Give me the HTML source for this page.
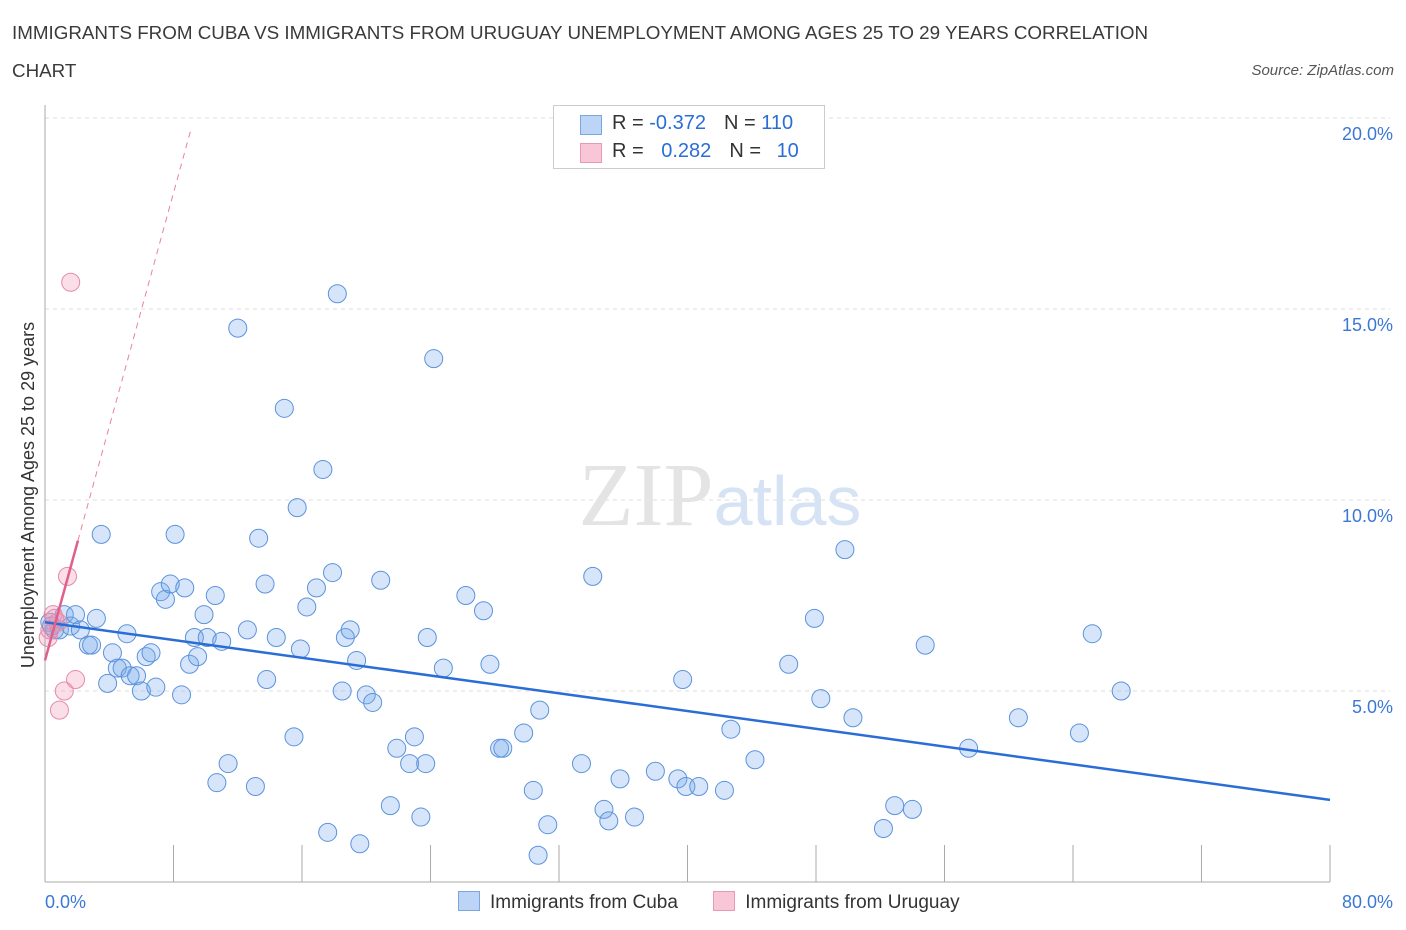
<!DOCTYPE html>
<html><head><meta charset="utf-8"><style>
body{margin:0;background:#fff;font-family:"Liberation Sans",sans-serif;}
#wrap{position:relative;width:1406px;height:930px;overflow:hidden}
.t{position:absolute;color:#333}
</style></head><body>
<div id="wrap">
<div class="t" style="left:12px;top:14px;font-size:18.8px;line-height:38px;color:#3a3a3a">IMMIGRANTS FROM CUBA VS IMMIGRANTS FROM URUGUAY UNEMPLOYMENT AMONG AGES 25 TO 29 YEARS CORRELATION<br>CHART</div>
<div class="t" style="right:12px;top:62px;font-size:15px;font-style:italic;color:#555">Source: ZipAtlas.com</div>
<svg id="svg" width="1406" height="930" style="position:absolute;left:0;top:0"></svg>
</div>
<script>
const xTicks=[0,8,16,24,32,40,48,56,64,72,80];
const yTicks=[5,10,15,20];
const yTickLabels=["5.0%","10.0%","15.0%","20.0%"];
const cubaX=[0.3,0.6,0.9,1.2,1.6,1.9,2.2,2.7,2.9,3.2,3.5,3.9,4.2,4.5,4.8,5.1,5.3,5.7,6.0,6.3,6.6,6.9,7.2,7.5,7.8,8.1,8.5,8.7,9.0,9.3,9.5,9.9,10.1,10.6,11.0,11.4,10.7,12.0,12.6,13.1,13.3,13.7,13.8,14.4,14.9,15.5,15.7,15.9,16.3,16.9,17.3,17.6,17.9,18.2,18.5,18.7,19.0,19.4,19.6,20.0,20.4,20.9,21.5,21.9,22.7,23.0,23.4,23.7,23.8,24.2,24.8,26.2,27.3,27.7,28.3,28.5,29.8,30.4,30.8,30.7,31.3,33.4,34.1,34.8,35.1,35.8,36.7,38.0,39.4,39.7,39.9,40.7,42.3,42.7,44.2,46.3,47.9,48.3,49.8,50.3,52.2,52.9,54.0,54.8,57.5,60.6,64.4,65.2,67.0,0.4];
const cubaY=[6.8,6.6,6.6,7.0,6.7,7.0,6.6,6.2,6.2,6.9,9.1,5.2,6.0,5.6,5.6,6.5,5.4,5.4,5.0,5.9,6.0,5.1,7.6,7.4,7.8,9.1,4.9,7.7,5.7,6.4,5.9,7.0,6.4,7.5,6.3,3.1,2.6,14.5,6.6,2.5,9.0,7.8,5.3,6.4,12.4,3.8,9.8,6.1,7.2,7.7,10.8,1.3,8.1,15.4,5.0,6.4,6.6,5.8,1.0,4.9,4.7,7.9,2.0,3.5,3.1,3.8,1.7,3.1,6.4,13.7,5.6,7.5,7.1,5.7,3.5,3.5,3.9,2.4,4.5,0.7,1.5,3.1,8.0,1.9,1.6,2.7,1.7,2.9,2.7,5.3,2.5,2.5,2.4,4.0,3.2,5.7,6.9,4.8,8.7,4.3,1.4,2.0,1.9,6.2,3.5,4.3,3.9,6.5,5.0,6.7];
const urX=[0.3,0.5,0.6,0.8,0.9,1.2,1.4,1.6,1.9,0.2];
const urY=[6.6,7.0,6.9,6.8,4.5,5.0,8.0,15.7,5.3,6.4];
const cubaTrend=[6.8,2.15];
const urTrend=[5.8,1.53];
const L=45,R=1330,B=882,T=118;
const X=v=>L+v/80*(R-L), Y=v=>B-v/20*(B-T);
const svg=document.getElementById('svg');const NS='http://www.w3.org/2000/svg';
function mk(tag,at,parent){const e=document.createElementNS(NS,tag);for(const k in at)e.setAttribute(k,at[k]);(parent||svg).appendChild(e);return e;}
yTicks.forEach((v,i)=>{const g=mk('line',{x1:L,x2:R+60,y1:Y(v),y2:Y(v),stroke:'#ddd','stroke-dasharray':'4,4'});


const t=mk('text',{x:1393,y:Y(v)+22,'text-anchor':'end','font-size':18,fill:'#3a78d6'});t.textContent=yTickLabels[i];

});
const ax=mk('line',{x1:L,x2:L,y1:105,y2:B,stroke:'#aaa'});


const bx=mk('line',{x1:L,x2:R,y1:B,y2:B,stroke:'#aaa'});


xTicks.forEach(v=>{const tk=mk('line',{x1:X(v),x2:X(v),y1:845,y2:B,stroke:'#aaa'});

});
[['0.0%',45,'start'],['80.0%',1393,'end']].forEach(a=>{const t=mk('text',{x:a[1],y:908,'text-anchor':a[2],'font-size':18,fill:'#3a78d6'});t.textContent=a[0];

});
const wm=mk('text',{x:720,y:525,'text-anchor':'middle','font-size':90,fill:'#e4e4e4','font-family':'Liberation Serif'});wm.innerHTML='ZIP<tspan fill="#d6e3f5" font-family="Liberation Sans" font-size="70">atlas</tspan>';


const yt=mk('text',{transform:'translate(34,495) rotate(-90)','text-anchor':'middle','font-size':18,fill:'#333'});yt.textContent='Unemployment Among Ages 25 to 29 years';


cubaX.forEach((v,i)=>{const c=mk('circle',{cx:X(v),cy:Y(cubaY[i]),r:9,fill:'rgba(120,170,235,0.3)',stroke:'#5b93dc','stroke-width':1});

});
urX.forEach((v,i)=>{const c=mk('circle',{cx:X(v),cy:Y(urY[i]),r:9,fill:'rgba(240,150,180,0.3)',stroke:'#e88aa8','stroke-width':1});

});
const cl=mk('line',{x1:X(0),y1:Y(cubaTrend[0]),x2:X(80),y2:Y(cubaTrend[1]),stroke:'#2a6dd6','stroke-width':2.5});


const ud=mk('line',{x1:X(2.05),y1:Y(urTrend[0]+urTrend[1]*2.05),x2:X(9.1),y2:Y(urTrend[0]+urTrend[1]*9.1),stroke:'#e8829f','stroke-width':1,'stroke-dasharray':'6,5'});


const us=mk('line',{x1:X(0),y1:Y(urTrend[0]),x2:X(2.05),y2:Y(urTrend[0]+urTrend[1]*2.05),stroke:'#e0608a','stroke-width':2.5});


</script>
<div style="position:absolute;left:553px;top:105px;width:270px;height:62px;border:1px solid #ccc;background:#fff;font-size:20px;color:#333">
<div style="position:absolute;left:26px;top:9px;width:20px;height:18px;background:#bcd4f5;border:1px solid #7ba6e0"></div>
<div style="position:absolute;left:58px;top:6px"><span>R = </span><span style="color:#2a6dd6">-0.372</span><span style="margin-left:18px">N = </span><span style="color:#2a6dd6">110</span></div>
<div style="position:absolute;left:26px;top:37px;width:20px;height:18px;background:#f8c6d6;border:1px solid #e89ab2"></div>
<div style="position:absolute;left:58px;top:34px"><span>R = </span><span style="color:#2a6dd6;margin-left:12px">0.282</span><span style="margin-left:18px">N = </span><span style="color:#2a6dd6;margin-left:10px">10</span></div>
</div>
<div style="position:absolute;left:458px;top:891px;font-size:19px;color:#333">
<span><span style="display:inline-block;width:20px;height:18px;background:#bcd4f5;border:1px solid #7ba6e0;vertical-align:-3px;margin-right:10px"></span>Immigrants from Cuba</span>
<span style="margin-left:30px"><span style="display:inline-block;width:20px;height:18px;background:#f8c6d6;border:1px solid #e89ab2;vertical-align:-3px;margin-right:10px"></span>Immigrants from Uruguay</span>
</div>
</body></html>
